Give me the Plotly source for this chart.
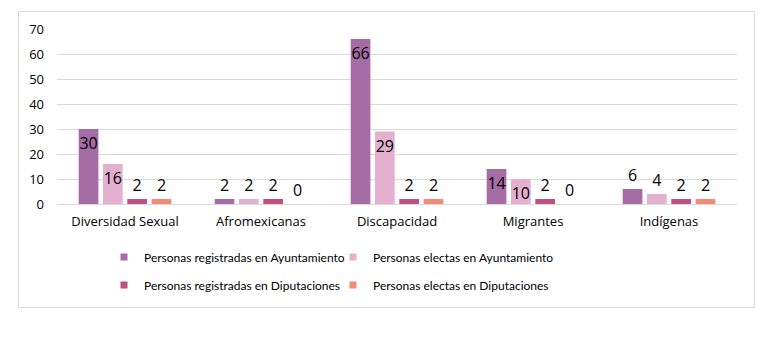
import plotly.graph_objects as go

categories = ["Diversidad Sexual", "Afromexicanas", "Discapacidad", "Migrantes", "Indígenas"]
series_names = [
    "Personas registradas en Ayuntamiento",
    "Personas electas en Ayuntamiento",
    "Personas registradas en Diputaciones",
    "Personas electas en Diputaciones",
]
reg_ayto = [30, 2, 66, 14, 6]
ele_ayto = [16, 2, 29, 10, 4]
reg_dip = [2, 2, 2, 2, 2]
ele_dip = [2, 0, 2, 0, 2]
y_ticks = [0, 10, 20, 30, 40, 50, 60, 70]

colors = ["#A66CA5", "#E3B0CF", "#BF4F7F", "#F08B74"]
values = [reg_ayto, ele_ayto, reg_dip, ele_dip]

W, H = 782, 340
L, R, T, B = 57, 737, 29, 204  # plot area pixels

FONT = "Open Sans"
LEG_FONT = "Lato"

fig = go.Figure()
for name, vals, col in zip(series_names, values, colors):
    pos = ["inside" if v >= 10 else "outside" for v in vals]
    fig.add_trace(go.Bar(
        x=categories, y=vals, name=name, marker_color=col,
        marker_line_width=0,
        text=[str(v) for v in vals], textposition=pos,
        insidetextanchor="end",
        textfont=dict(family=FONT, size=16, color="#000000"),
        insidetextfont=dict(family=FONT, size=16, color="#000000"),
        outsidetextfont=dict(family=FONT, size=16, color="#000000"),
        cliponaxis=False, showlegend=False, constraintext="none",
    ))

# legend proxies (small square markers), one legend box per entry (2x2 grid)
legend_ids = ["legend", "legend2", "legend3", "legend4"]
for name, col, lg in zip(series_names, colors, legend_ids):
    fig.add_trace(go.Scatter(
        x=[None], y=[None], mode="markers", name=name, legend=lg,
        marker=dict(symbol="square", size=7, color=col), showlegend=True,
    ))

def px_x(p):
    return (p - L) / (R - L)

def px_y(p):
    return (B - p) / (B - T)

fig.add_shape(type="rect", xref="paper", yref="paper",
              x0=px_x(18.5), x1=px_x(754.5), y0=px_y(307.5), y1=px_y(11.5),
              line=dict(color="#D9D9D9", width=1), layer="below")

legend_common = dict(orientation="h", xanchor="left", yanchor="middle",
                     font=dict(family=LEG_FONT, size=12, color="#000000"),
                     itemwidth=30, bgcolor="rgba(0,0,0,0)")

col_x = [104, 333]
row_y = [257, 285]

fig.update_layout(
    width=W, height=H,
    margin=dict(l=L, r=W - R, t=T, b=H - B),
    paper_bgcolor="white", plot_bgcolor="white",
    barmode="group", bargap=0.285, bargroupgap=0.19,
    font=dict(family=FONT, size=13, color="#000000"),
    uniformtext=dict(minsize=16, mode="show"),
    xaxis=dict(showgrid=False, showline=False, ticks="", tickfont=dict(size=13, color="#000000"),
               ticklabelstandoff=8),
    yaxis=dict(range=[0, 70], tickvals=y_ticks, showgrid=True, gridcolor="#D9D9D9",
               gridwidth=1, zeroline=True, zerolinecolor="#D9D9D9", zerolinewidth=1,
               showline=False, ticks="", tickfont=dict(size=13, color="#000000"),
               ticklabelstandoff=12),
    legend=dict(x=px_x(col_x[0]), y=px_y(row_y[0]), **legend_common),
    legend2=dict(x=px_x(col_x[1]), y=px_y(row_y[0]), **legend_common),
    legend3=dict(x=px_x(col_x[0]), y=px_y(row_y[1]), **legend_common),
    legend4=dict(x=px_x(col_x[1]), y=px_y(row_y[1]), **legend_common),
)

fig.write_html("out.html")
